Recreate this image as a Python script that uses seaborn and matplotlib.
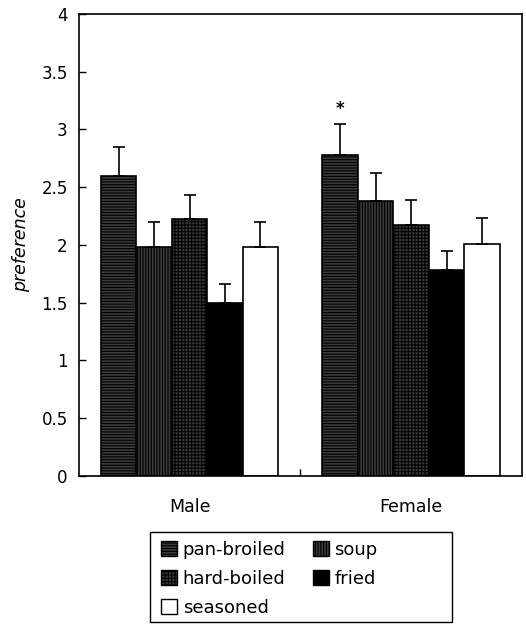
import numpy as np
import pandas as pd
import seaborn as sns
import matplotlib.pyplot as plt
from matplotlib.patches import Patch, Rectangle

sns.set_theme(style='white')
plt.rcParams['font.family'] = ['DejaVu Sans']
plt.rcParams['hatch.linewidth'] = 0.8
plt.rcParams['text.color'] = 'black'

# 数据
genders = ['Male', 'Female']
foods = ['pan-broiled', 'soup', 'hard-boiled', 'fried', 'seasoned']
male_mean = [2.60, 1.98, 2.22, 1.50, 1.98]
male_err = [0.25, 0.22, 0.21, 0.16, 0.22]
female_mean = [2.78, 2.38, 2.17, 1.78, 2.01]
female_err = [0.27, 0.24, 0.22, 0.17, 0.22]

df = pd.DataFrame({
    'gender': np.repeat(genders, len(foods)),
    'food': foods * 2,
    'mean': male_mean + female_mean,
    'err': male_err + female_err,
})

faces = {'pan-broiled': '#3a3a3a', 'soup': '#3a3a3a', 'hard-boiled': '#3a3a3a',
         'fried': 'black', 'seasoned': 'white'}
hatches = {'pan-broiled': '------', 'soup': '||||||', 'hard-boiled': '+++++',
           'fried': '', 'seasoned': ''}

fig = plt.figure(figsize=(5.26, 6.28), dpi=100)
ax = fig.add_axes([0.150, 0.242, 0.842, 0.736])

sns.barplot(data=df, x='gender', y='mean', hue='food', order=genders,
            hue_order=foods, errorbar=None, width=0.8, ax=ax,
            palette=faces, edgecolor='black', linewidth=1.2, legend=False)

# 纹理与误差线
for i, food in enumerate(foods):
    cont = ax.containers[i]
    for bar in cont:
        bar.set_hatch(hatches[food])
        bar.set_facecolor(faces[food])
    xs = [b.get_x() + b.get_width() / 2 for b in cont]
    ys = [b.get_height() for b in cont]
    sub = df[df['food'] == food].set_index('gender').loc[genders]
    ax.errorbar(xs, ys, yerr=[np.zeros(len(xs)), sub['err'].values],
                fmt='none', ecolor='black', elinewidth=1.2, capsize=4, capthick=1.2)

# 显著性星号
star_bar = ax.containers[0][1]
ax.text(star_bar.get_x() + star_bar.get_width() / 2, 3.18, '*',
        ha='center', va='center', fontsize=12, fontweight='bold')

ax.set_ylim(0, 4)
ax.set_xlim(-0.5, 1.5)
ax.set_yticks([0, 0.5, 1, 1.5, 2, 2.5, 3, 3.5, 4])
ax.set_yticklabels(['0', '0.5', '1', '1.5', '2', '2.5', '3', '3.5', '4'])
ax.tick_params(axis='y', direction='in', length=5, width=1, labelsize=12, pad=8,
               color='black', labelcolor='black', left=True)
ax.tick_params(axis='x', length=0, labelsize=12.5, pad=16, labelcolor='black')
ax.set_xticks([0.5], minor=True)
ax.tick_params(axis='x', which='minor', direction='in', length=5, width=1,
               bottom=True, color='black')
ax.set_xlabel('')
ax.set_ylabel('preference', fontsize=12.5, style='italic', labelpad=8, color='black')

for s in ax.spines.values():
    s.set_color('black')
    s.set_linewidth(1.2)

# 图例
handles = [Patch(facecolor=faces[f], edgecolor='black', hatch=hatches[f], label=f)
           for f in foods]
order = [0, 2, 4, 1, 3]
leg = fig.legend([handles[k] for k in order], [foods[k] for k in order],
                 loc='upper left', bbox_to_anchor=(0.306, 0.139), ncol=2,
                 fontsize=13, frameon=False, handlelength=0.9, handleheight=0.9,
                 handletextpad=0.3, columnspacing=1.5, borderpad=0,
                 labelspacing=0.62, borderaxespad=0)
for t in leg.get_texts():
    t.set_color('black')
fig.patches.append(Rectangle((150 / 526, 1 - 622 / 628), 302 / 526, 90 / 628,
                             transform=fig.transFigure, fill=False,
                             edgecolor='black', linewidth=1.0))

fig.savefig('out.png', dpi=100)
